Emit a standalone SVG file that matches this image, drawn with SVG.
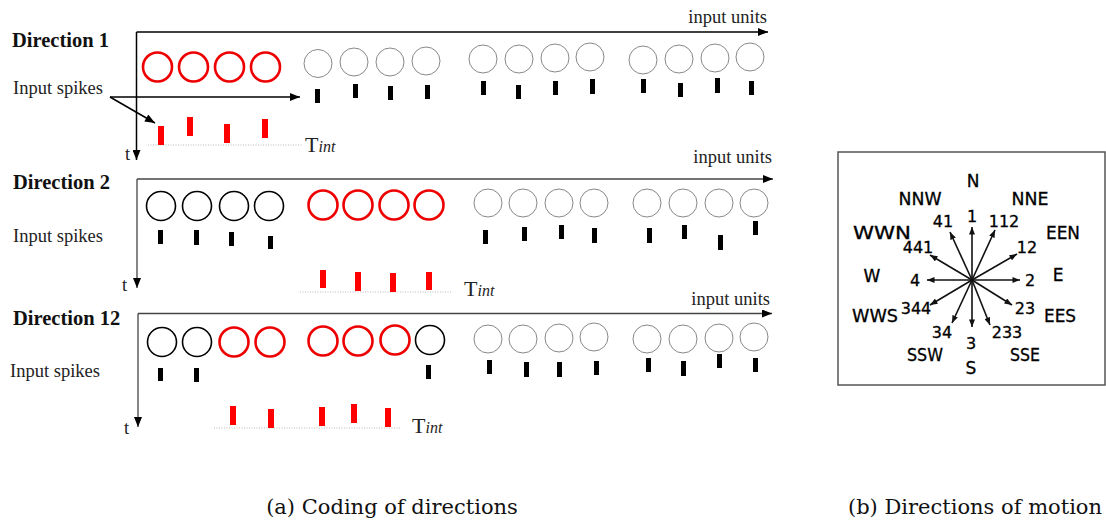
<svg xmlns="http://www.w3.org/2000/svg" width="1106" height="525" viewBox="0 0 1106 525">
<defs>
<marker id="ah" viewBox="0 0 10 8" refX="10" refY="4" markerWidth="11" markerHeight="8" markerUnits="userSpaceOnUse" orient="auto"><path d="M0,0 L10,4 L0,8 Z" fill="#000"/></marker>
<marker id="ahs" viewBox="0 0 10 8" refX="10" refY="4" markerWidth="8" markerHeight="6" markerUnits="userSpaceOnUse" orient="auto"><path d="M0,0 L10,4 L0,8 Z" fill="#111"/></marker>
<style>
.title{font-family:"Liberation Serif",serif;font-weight:bold;font-size:20.5px;fill:#111}
.lbl{font-family:"Liberation Serif",serif;font-size:18.5px;fill:#222}
.tint{font-family:"Liberation Serif",serif;font-size:22px;fill:#222}
.it{font-style:italic;font-size:16px}
.cap{font-family:"DejaVu Serif",serif;font-size:21px;fill:#111}
.axis{stroke:#000;stroke-width:1.5;fill:none}
.axisg{stroke:#444;stroke-width:1.3;fill:none}
.gc{fill:none;stroke:#888;stroke-width:1}
.rc{fill:none;stroke:#e00;stroke-width:2.6}
.bc{fill:none;stroke:#000;stroke-width:1.6}
.bs{fill:#000}
.rs{fill:#f00}
.dot{stroke:#bbb;stroke-width:1;stroke-dasharray:1,1.5}
.ca{stroke:#111;stroke-width:1.6;fill:none}
.cl{font-family:"DejaVu Sans",sans-serif;font-size:17px;fill:#000;text-anchor:middle;stroke:#000;stroke-width:0.3}
.cn{font-family:"DejaVu Sans",sans-serif;font-size:16px;fill:#000;text-anchor:middle;stroke:#000;stroke-width:0.3}
</style>
</defs>
<rect width="1106" height="525" fill="#fff"/>

<g id="connectors">
<path class="axis" d="M136.5,32 H768" marker-end="url(#ah)"/>
<path class="axis" d="M136.5,32 V160" marker-end="url(#ah)"/>
<path class="axis" d="M110,97 H300" marker-end="url(#ah)"/>
<path class="axis" d="M110,97 L155,123" marker-end="url(#ah)"/>
<path class="axisg" d="M137,179 H773" marker-end="url(#ah)"/>
<path class="axisg" d="M137,179 V288" marker-end="url(#ah)"/>
<path class="axisg" d="M138,313.5 H772" marker-end="url(#ah)"/>
<path class="axisg" d="M138,313.5 V427" marker-end="url(#ah)"/>
<line class="dot" x1="148" y1="145" x2="302" y2="145"/>
<line class="dot" x1="300" y1="292" x2="452" y2="292"/>
<line class="dot" x1="214" y1="428" x2="400" y2="428"/>
</g>

<g id="direction1">
<text class="title" x="12" y="47">Direction 1</text>
<text class="lbl" x="13" y="94">Input spikes</text>
<text class="lbl" x="767" y="23" text-anchor="end">input units</text>
<text class="lbl" x="125" y="160">t</text>
<text class="tint" x="305" y="152">T<tspan class="it">int</tspan></text>
<circle class="rc" cx="157.5" cy="67" r="14.5"/>
<circle class="rc" cx="193.5" cy="67" r="14.5"/>
<circle class="rc" cx="229.5" cy="67" r="14.5"/>
<circle class="rc" cx="265.5" cy="67" r="14.5"/>
<circle class="gc" cx="318" cy="63.5" r="14"/>
<circle class="gc" cx="354" cy="62" r="14"/>
<circle class="gc" cx="390" cy="62" r="14"/>
<circle class="gc" cx="426" cy="61" r="14"/>
<circle class="gc" cx="483" cy="59" r="14"/>
<circle class="gc" cx="519" cy="59" r="14"/>
<circle class="gc" cx="555" cy="58" r="14"/>
<circle class="gc" cx="590" cy="57" r="14"/>
<circle class="gc" cx="643" cy="60" r="14"/>
<circle class="gc" cx="679" cy="59" r="14"/>
<circle class="gc" cx="715" cy="58" r="14"/>
<circle class="gc" cx="750" cy="57" r="14"/>
<rect class="bs" x="315" y="89" width="5" height="14"/>
<rect class="bs" x="353" y="84" width="5" height="14"/>
<rect class="bs" x="388" y="86" width="5" height="14"/>
<rect class="bs" x="425" y="85" width="5" height="14"/>
<rect class="bs" x="481" y="81" width="5" height="14"/>
<rect class="bs" x="516" y="85" width="5" height="14"/>
<rect class="bs" x="553" y="81" width="5" height="14"/>
<rect class="bs" x="590" y="79" width="5" height="15"/>
<rect class="bs" x="641" y="79" width="5" height="14"/>
<rect class="bs" x="678" y="83" width="5" height="14"/>
<rect class="bs" x="715" y="78" width="5" height="15"/>
<rect class="bs" x="749" y="81" width="5" height="14"/>
<rect class="rs" x="158" y="126" width="6" height="19"/>
<rect class="rs" x="187" y="117" width="6" height="19"/>
<rect class="rs" x="224" y="124" width="6" height="19"/>
<rect class="rs" x="262" y="119" width="6" height="19"/>
</g>

<g id="direction2">
<text class="title" x="13" y="189">Direction 2</text>
<text class="lbl" x="13" y="242">Input spikes</text>
<text class="lbl" x="772" y="163" text-anchor="end">input units</text>
<text class="lbl" x="122" y="291">t</text>
<text class="tint" x="464" y="296">T<tspan class="it">int</tspan></text>
<circle class="bc" cx="161" cy="206" r="14.5"/>
<circle class="bc" cx="197" cy="206" r="14.5"/>
<circle class="bc" cx="234" cy="206" r="14.5"/>
<circle class="bc" cx="269" cy="206" r="14.5"/>
<circle class="rc" cx="323" cy="205" r="14.5"/>
<circle class="rc" cx="358" cy="205" r="14.5"/>
<circle class="rc" cx="394" cy="205" r="14.5"/>
<circle class="rc" cx="429" cy="205" r="14.5"/>
<circle class="gc" cx="488" cy="203" r="14"/>
<circle class="gc" cx="523" cy="203" r="14"/>
<circle class="gc" cx="559" cy="203" r="14"/>
<circle class="gc" cx="594" cy="203" r="14"/>
<circle class="gc" cx="647" cy="203" r="14"/>
<circle class="gc" cx="683" cy="203" r="14"/>
<circle class="gc" cx="719" cy="203" r="14"/>
<circle class="gc" cx="754" cy="203" r="14"/>
<rect class="bs" x="158" y="230" width="5" height="14"/>
<rect class="bs" x="194" y="230" width="5" height="15"/>
<rect class="bs" x="229" y="232" width="5" height="14"/>
<rect class="bs" x="268" y="236" width="5" height="13"/>
<rect class="bs" x="483" y="230" width="5" height="14"/>
<rect class="bs" x="522" y="227" width="5" height="14"/>
<rect class="bs" x="559" y="225" width="5" height="14"/>
<rect class="bs" x="592" y="228" width="5" height="15"/>
<rect class="bs" x="647" y="228" width="5" height="15"/>
<rect class="bs" x="682" y="225" width="5" height="14"/>
<rect class="bs" x="718" y="235" width="5" height="15"/>
<rect class="bs" x="753" y="221" width="5" height="14"/>
<rect class="rs" x="320" y="270" width="6" height="18"/>
<rect class="rs" x="355" y="272" width="6" height="19"/>
<rect class="rs" x="390" y="273" width="6" height="19"/>
<rect class="rs" x="426" y="272" width="6" height="18"/>
</g>

<g id="direction12">
<text class="title" x="13" y="325">Direction 12</text>
<text class="lbl" x="10" y="377">Input spikes</text>
<text class="lbl" x="770" y="305" text-anchor="end">input units</text>
<text class="lbl" x="124" y="434">t</text>
<text class="tint" x="412" y="433">T<tspan class="it">int</tspan></text>
<circle class="bc" cx="162" cy="342" r="14.5"/>
<circle class="bc" cx="197" cy="342" r="14.5"/>
<circle class="rc" cx="234" cy="342" r="14.5"/>
<circle class="rc" cx="270" cy="342" r="14.5"/>
<circle class="rc" cx="323" cy="341" r="14.5"/>
<circle class="rc" cx="358" cy="341" r="14.5"/>
<circle class="rc" cx="395" cy="340" r="14.5"/>
<circle class="bc" cx="430" cy="340" r="14.5"/>
<circle class="gc" cx="488" cy="339" r="14"/>
<circle class="gc" cx="523" cy="339" r="14"/>
<circle class="gc" cx="559" cy="338" r="14"/>
<circle class="gc" cx="594" cy="337" r="14"/>
<circle class="gc" cx="647" cy="339" r="14"/>
<circle class="gc" cx="683" cy="339" r="14"/>
<circle class="gc" cx="719" cy="338" r="14"/>
<circle class="gc" cx="754" cy="337" r="14"/>
<rect class="bs" x="158" y="368" width="5" height="13"/>
<rect class="bs" x="194" y="368" width="5" height="14"/>
<rect class="bs" x="426" y="365" width="5" height="14"/>
<rect class="bs" x="487" y="360" width="5" height="14"/>
<rect class="bs" x="524" y="362" width="5" height="15"/>
<rect class="bs" x="557" y="362" width="5" height="15"/>
<rect class="bs" x="594" y="361" width="5" height="14"/>
<rect class="bs" x="646" y="358" width="5" height="14"/>
<rect class="bs" x="681" y="361" width="5" height="15"/>
<rect class="bs" x="717" y="354" width="5" height="14"/>
<rect class="bs" x="753" y="358" width="5" height="14"/>
<rect class="rs" x="230" y="406" width="6" height="19"/>
<rect class="rs" x="268" y="409" width="6" height="19"/>
<rect class="rs" x="319" y="407" width="6" height="19"/>
<rect class="rs" x="351" y="404" width="6" height="19"/>
<rect class="rs" x="385" y="408" width="6" height="19"/>
</g>

<g id="compass">
<rect x="838" y="152" width="267" height="233" fill="none" stroke="#555" stroke-width="1.5"/>
<g>
<line class="ca" x1="972" y1="280" x2="972" y2="227" marker-end="url(#ahs)"/>
<line class="ca" x1="972" y1="280" x2="995" y2="230" marker-end="url(#ahs)"/>
<line class="ca" x1="972" y1="280" x2="1017" y2="254" marker-end="url(#ahs)"/>
<line class="ca" x1="972" y1="280" x2="1020" y2="280" marker-end="url(#ahs)"/>
<line class="ca" x1="972" y1="280" x2="1012" y2="305" marker-end="url(#ahs)"/>
<line class="ca" x1="972" y1="280" x2="990" y2="325" marker-end="url(#ahs)"/>
<line class="ca" x1="972" y1="280" x2="972" y2="327" marker-end="url(#ahs)"/>
<line class="ca" x1="972" y1="280" x2="952" y2="323" marker-end="url(#ahs)"/>
<line class="ca" x1="972" y1="280" x2="930" y2="305" marker-end="url(#ahs)"/>
<line class="ca" x1="972" y1="280" x2="927" y2="280" marker-end="url(#ahs)"/>
<line class="ca" x1="972" y1="280" x2="930" y2="255" marker-end="url(#ahs)"/>
<line class="ca" x1="972" y1="280" x2="950" y2="232" marker-end="url(#ahs)"/>
</g>
<text class="cl" x="973" y="187">N</text>
<text class="cl" x="920" y="205" textLength="43" lengthAdjust="spacingAndGlyphs">NNW</text>
<text class="cl" x="1030" y="205" textLength="37" lengthAdjust="spacingAndGlyphs">NNE</text>
<text class="cl" x="882" y="239" textLength="58" lengthAdjust="spacingAndGlyphs">WWN</text>
<text class="cl" x="1063" y="239" textLength="34" lengthAdjust="spacingAndGlyphs">EEN</text>
<text class="cl" x="872" y="282">W</text>
<text class="cl" x="1058" y="281">E</text>
<text class="cl" x="875" y="322" textLength="46" lengthAdjust="spacingAndGlyphs">WWS</text>
<text class="cl" x="1060" y="322" textLength="32" lengthAdjust="spacingAndGlyphs">EES</text>
<text class="cl" x="925" y="361" textLength="36" lengthAdjust="spacingAndGlyphs">SSW</text>
<text class="cl" x="1025" y="361" textLength="30" lengthAdjust="spacingAndGlyphs">SSE</text>
<text class="cl" x="971" y="374">S</text>
<text class="cn" x="972" y="222">1</text>
<text class="cn" x="943" y="227">41</text>
<text class="cn" x="1004" y="227">112</text>
<text class="cn" x="918" y="253">441</text>
<text class="cn" x="1027" y="253">12</text>
<text class="cn" x="915" y="286">4</text>
<text class="cn" x="1030" y="286">2</text>
<text class="cn" x="916" y="314">344</text>
<text class="cn" x="1025" y="314">23</text>
<text class="cn" x="942" y="338">34</text>
<text class="cn" x="1007" y="338">233</text>
<text class="cn" x="971" y="349">3</text>
</g>

<g id="captions">
<text class="cap" x="392" y="514" text-anchor="middle">(a) Coding of directions</text>
<text class="cap" x="975" y="514" text-anchor="middle">(b) Directions of motion</text>
</g>
</svg>
